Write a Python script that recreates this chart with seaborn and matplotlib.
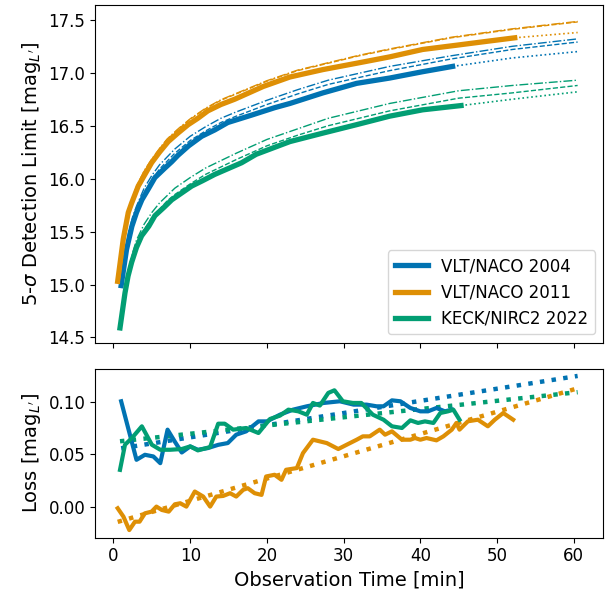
"""Límites de detección 5-sigma y pérdida frente al tiempo de observación."""

import matplotlib

matplotlib.use("Agg")
import matplotlib.pyplot as plt
import seaborn as sns

# --- datos ---
names = ["VLT/NACO 2004", "VLT/NACO 2011", "KECK/NIRC2 2022"]

# curvas de límite de detección (línea gruesa)
naco04_t = [1.0, 1.7, 2.4, 3.0, 3.7, 4.6, 5.4, 6.7, 7.6, 8.4, 9.8, 11.5, 13.2, 14.9, 18.0, 21.0, 23.0,
            27.3, 31.7, 36.0, 40.3, 44.2]
naco04_lim = [14.99, 15.33, 15.55, 15.68, 15.80, 15.91, 16.01, 16.10, 16.16, 16.22, 16.31, 16.40, 16.46,
              16.53, 16.60, 16.67, 16.71, 16.81, 16.90, 16.95, 17.01, 17.06]
naco11_t = [0.55, 1.28, 1.93, 2.37, 3.23, 4.1, 4.97, 6.0, 7.14, 8.4, 9.74, 11.0, 12.3, 14.0, 15.8, 19.5,
            23.0, 27.3, 31.7, 36.0, 40.3, 44.7, 49.0, 52.3]
naco11_lim = [15.03, 15.43, 15.68, 15.77, 15.93, 16.04, 16.15, 16.25, 16.35, 16.43, 16.51, 16.57, 16.64,
              16.70, 16.75, 16.87, 16.96, 17.03, 17.09, 17.15, 17.22, 17.26, 17.30, 17.33]
nirc2_t = [0.85, 1.5, 1.9, 2.37, 3.0, 3.67, 4.6, 5.4, 6.6, 7.6, 9.0, 10.2, 11.6, 13.2, 16.7, 18.6, 23.0,
           27.3, 31.7, 36.0, 40.3, 45.3]
nirc2_lim = [14.59, 14.92, 15.08, 15.21, 15.35, 15.46, 15.55, 15.65, 15.73, 15.80, 15.87, 15.93, 15.98,
             16.04, 16.15, 16.23, 16.35, 16.43, 16.51, 16.59, 16.65, 16.69]

# modelos (discontinua / punto-raya)
naco04_mt = [1.0, 1.5, 2, 2.5, 3, 4, 5, 6, 8, 10, 12, 14, 16, 20, 24, 28, 36, 44, 52, 60.5]
naco04_dash = [15.00, 15.27, 15.47, 15.61, 15.71, 15.87, 15.99, 16.09, 16.24, 16.36, 16.45, 16.53, 16.59,
               16.70, 16.80, 16.89, 17.02, 17.13, 17.22, 17.29]
naco04_dashdot = [15.02, 15.29, 15.50, 15.64, 15.74, 15.91, 16.03, 16.13, 16.28, 16.40, 16.49, 16.57,
                  16.63, 16.74, 16.84, 16.93, 17.06, 17.16, 17.25, 17.32]
naco11_mt = [0.55, 1, 1.5, 2, 2.5, 3, 4, 5, 6, 7, 8.5, 10, 12, 14, 16, 20, 24, 28, 32, 36, 44, 52, 60.5]
naco11_dash = [15.04, 15.31, 15.53, 15.70, 15.82, 15.92, 16.07, 16.18, 16.28, 16.37, 16.47, 16.56, 16.66,
               16.74, 16.80, 16.92, 17.02, 17.09, 17.16, 17.22, 17.33, 17.41, 17.48]
naco11_dashdot = [15.045, 15.315, 15.535, 15.705, 15.825, 15.925, 16.075, 16.185, 16.285, 16.375, 16.475,
                  16.565, 16.665, 16.745, 16.805, 16.925, 17.025, 17.095, 17.165, 17.225, 17.335, 17.415,
                  17.485]
nirc2_mt = [0.85, 1.5, 2, 2.5, 3, 4, 5, 6, 7, 8, 10, 12, 14, 16, 20, 24, 28, 36, 45, 52, 60.5]
nirc2_dash = [14.60, 14.94, 15.11, 15.25, 15.37, 15.52, 15.63, 15.71, 15.79, 15.85, 15.95, 16.04, 16.11,
              16.18, 16.31, 16.41, 16.50, 16.64, 16.76, 16.81, 16.88]
nirc2_dashdot = [14.62, 14.97, 15.15, 15.30, 15.42, 15.57, 15.68, 15.77, 15.84, 15.91, 16.01, 16.10, 16.17,
                 16.24, 16.37, 16.47, 16.57, 16.71, 16.83, 16.88, 16.93]

# extrapolaciones (punteada)
naco04_ext_t = [44.2, 52, 60.5]
naco04_ext = [17.06, 17.14, 17.20]
naco11_ext_t = [52.3, 60.5]
naco11_ext = [17.33, 17.38]
nirc2_ext_t = [45.3, 52, 60.5]
nirc2_ext = [16.69, 16.75, 16.82]

# pérdida
naco04_loss_t = [1.0, 3.0, 4.1, 5.2, 6.1, 7.05, 8.0, 8.9, 10.0, 11.0, 12.3, 13.65, 14.9, 16.0, 17.3, 18.9,
                 20.0, 21.7, 23.4, 25.2, 27.4, 29.5, 31.3, 33.0, 34.3, 35.2, 36.3, 37.4, 38.7, 40.0, 41.0,
                 42.1, 43.2, 44.1]
naco04_loss = [0.1006, 0.0447, 0.0495, 0.0479, 0.0415, 0.0735, 0.062, 0.0517, 0.0575, 0.0543, 0.0559,
               0.059, 0.0607, 0.0687, 0.0719, 0.0814, 0.0814, 0.0878, 0.0926, 0.0958, 0.0990, 0.1006,
               0.0974, 0.0974, 0.0958, 0.0958, 0.1015, 0.1006, 0.0942, 0.0910, 0.0910, 0.0942, 0.0910,
               0.0926]
naco11_loss_t = [0.55, 1.3, 2.06, 2.8, 3.4, 4.1, 4.97, 5.6, 6.3, 7.2, 8.0, 8.7, 9.5, 10.6, 11.7, 12.6, 13.4,
                 14.3, 15.2, 16.0, 16.9, 17.5, 18.4, 19.3, 19.9, 21.0, 21.9, 22.5, 23.9, 24.7, 26.0, 26.9,
                 27.8, 29.3, 30.4, 31.7, 32.5, 33.4, 34.7, 35.4, 36.3, 37.6, 38.7, 39.3, 40.0, 40.8, 42.1,
                 43.0, 44.1, 44.7, 45.1, 46.2, 47.5, 48.8, 49.7, 50.8, 52.1]
naco11_loss = [-0.0016, -0.0096, -0.0224, -0.0144, -0.0144, -0.0064, -0.0048, 0.0, -0.0032, -0.0048,
               0.0022, 0.0032, 0.0, 0.0144, 0.0096, 0.0, 0.0096, 0.0102, 0.0128, 0.0096, 0.0160, 0.0176,
               0.0128, 0.0112, 0.0288, 0.0304, 0.0256, 0.0352, 0.0368, 0.0511, 0.0639, 0.0623, 0.0607,
               0.0550, 0.0591, 0.0639, 0.0671, 0.0671, 0.0735, 0.0687, 0.0719, 0.0639, 0.0639, 0.0655,
               0.0639, 0.0655, 0.0633, 0.0671, 0.0735, 0.0799, 0.0735, 0.0815, 0.0830, 0.0767, 0.0830,
               0.0894, 0.0830]
nirc2_loss_t = [0.85, 1.5, 2.4, 3.7, 5.0, 6.1, 7.4, 8.9, 10.0, 11.0, 12.6, 13.65, 14.5, 15.6, 17.3, 18.9,
                20.4, 21.7, 22.8, 24.1, 25.2, 26.0, 26.9, 28.0, 28.8, 29.9, 31.2, 32.3, 33.8, 35.2, 36.3,
                37.6, 38.7, 39.7, 40.6, 41.7, 42.6, 43.6, 44.3, 45.1]
nirc2_loss = [0.0351, 0.0591, 0.0655, 0.0767, 0.0591, 0.0543, 0.0543, 0.0550, 0.0575, 0.0537, 0.0569,
              0.0792, 0.0792, 0.0735, 0.0751, 0.0703, 0.0837, 0.0869, 0.0926, 0.0910, 0.0878, 0.0990,
              0.0965, 0.1086, 0.1111, 0.1006, 0.0990, 0.0990, 0.0878, 0.0830, 0.0767, 0.0751, 0.0824,
              0.0799, 0.0814, 0.0799, 0.0894, 0.0910, 0.0926, 0.0830]

# ajustes lineales de la pérdida (punteada)
naco04_fit_t = [1.0, 60.5]
naco04_fit = [0.0557, 0.1248]
naco11_fit_t = [0.55, 60.5]
naco11_fit = [-0.0146, 0.113]
nirc2_fit_t = [0.85, 60.5]
nirc2_fit = [0.0624, 0.1093]

colors = sns.color_palette("colorblind", 3)

fig, (ax, ax_loss) = plt.subplots(
    2, 1, figsize=(6.05, 5.95), dpi=100, sharex=True,
    gridspec_kw={"height_ratios": [2, 1]},
)
fig.subplots_adjust(left=0.157, right=0.9975, top=0.9916, bottom=0.0963, hspace=0.103)

curves = [
    (naco04_t, naco04_lim, naco04_mt, naco04_dash, naco04_dashdot, naco04_ext_t, naco04_ext),
    (naco11_t, naco11_lim, naco11_mt, naco11_dash, naco11_dashdot, naco11_ext_t, naco11_ext),
    (nirc2_t, nirc2_lim, nirc2_mt, nirc2_dash, nirc2_dashdot, nirc2_ext_t, nirc2_ext),
]
handles = []
for (t, lim, mt, dash, dashdot, et, ext), c, name in zip(curves, colors, names):
    sns.lineplot(x=t, y=lim, ax=ax, color=c, lw=3.8, zorder=3)
    handles.append(ax.lines[-1])
    handles[-1].set_label(name)
    sns.lineplot(x=mt, y=dash, ax=ax, color=c, lw=1, ls="--", zorder=4)
    sns.lineplot(x=mt, y=dashdot, ax=ax, color=c, lw=1, ls="-.", zorder=4)
    sns.lineplot(x=et, y=ext, ax=ax, color=c, lw=1.2, ls=":", zorder=4)

ax.legend(handles=handles, loc="lower right", fontsize=12)
ax.set_ylim(14.45, 17.64)
ax.set_yticks([14.5, 15.0, 15.5, 16.0, 16.5, 17.0, 17.5])
ax.set_ylabel(r"5-$\sigma$ Detection Limit [mag$_{L'}$]", fontsize=14)
ax.tick_params(labelsize=12)

losses = [
    (naco04_loss_t, naco04_loss, naco04_fit_t, naco04_fit),
    (naco11_loss_t, naco11_loss, naco11_fit_t, naco11_fit),
    (nirc2_loss_t, nirc2_loss, nirc2_fit_t, nirc2_fit),
]
for (t, loss, ft, fit), c in zip(losses, colors):
    sns.lineplot(x=ft, y=fit, ax=ax_loss, color=c, lw=3.2, ls=":", zorder=2)
    sns.lineplot(x=t, y=loss, ax=ax_loss, color=c, lw=3, zorder=3)

ax_loss.set_ylim(-0.0297, 0.1316)
ax_loss.set_yticks([0.0, 0.05, 0.10])
ax_loss.set_xlim(-2.41, 63.87)
ax_loss.set_xticks([0, 10, 20, 30, 40, 50, 60])
ax_loss.set_xlabel("Observation Time [min]", fontsize=14)
ax_loss.set_ylabel(r"Loss [mag$_{L'}$]", fontsize=14)
ax_loss.tick_params(labelsize=12)

fig.align_ylabels([ax, ax_loss])
fig.savefig("out.png", dpi=100)
plt.close(fig)
